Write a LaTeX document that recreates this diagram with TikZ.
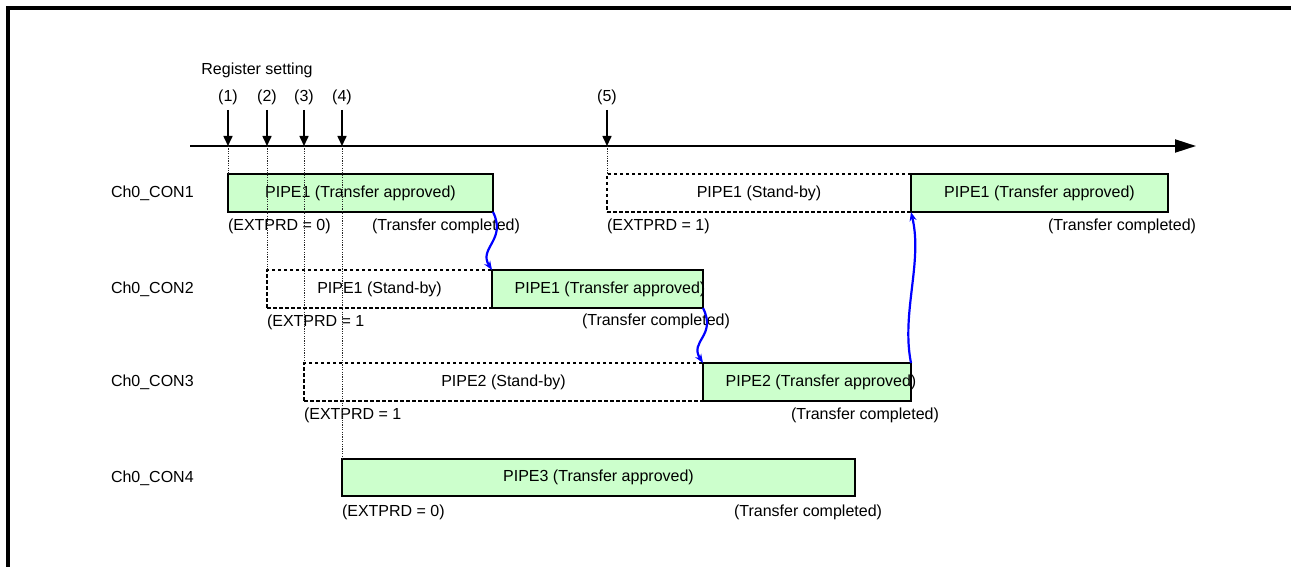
\documentclass[tikz,border=0pt]{standalone}
\usepackage{fontspec}
\setmainfont{Liberation Sans}
\usetikzlibrary{arrows.meta}
\definecolor{pgreen}{HTML}{CCFFCC}
\begin{document}
\begin{tikzpicture}[x=1pt,y=-1pt,
  every node/.style={font=\fontsize{16}{19}\selectfont, inner sep=0pt, outer sep=0pt, text=black},
  box/.style={draw=black, line width=2pt, anchor=north west, inner sep=0pt, outer sep=0pt},
  grn/.style={box, fill=pgreen},
  stby/.style={box, dash pattern=on 3.5pt off 2.5pt},
  regarrow/.style={line width=1.6pt, -{Triangle[length=10pt,width=9pt]}},
  axisline/.style={line width=2pt, -{Triangle[length=21pt,width=13pt]}},
  guide/.style={line width=1pt, dash pattern=on 1.2pt off 1.2pt, black!85},
  flow/.style={blue, line width=2.2pt, -{Stealth[length=9pt,width=7pt]}},
  rowlabel/.style={anchor=west},
]
\useasboundingbox (0,0) rectangle (1291,567);
% frame
\draw[line width=3.5pt] (8,567) -- (8,8) -- (1291,8);

% time axis
\coordinate (ax0) at (190,146);
\coordinate (ax1) at (1196,146);
\draw[axisline] (ax0) -- (ax1);

% register setting marks
\node (reg) at (257,70) {Register setting};
\foreach \i/\x in {1/228,2/267,3/304,4/342,5/607}{
  \node (l\i) at (\x,97) {(\i)};
  \coordinate (s\i) at (\x,110);
  \coordinate (e\i) at (\x,146);
  \draw[regarrow] (s\i) -- (e\i);
}

% row labels
\node[rowlabel] (r1) at (111,193) {Ch0\_CON1};
\node[rowlabel] (r2) at (111,289) {Ch0\_CON2};
\node[rowlabel] (r3) at (111,382) {Ch0\_CON3};
\node[rowlabel] (r4) at (111,478) {Ch0\_CON4};

% boxes
\node[grn, minimum width=265pt, minimum height=38pt] (c1a) at (228,174) {PIPE1 (Transfer approved)};
\node[stby, minimum width=304pt, minimum height=38pt] (c1b) at (607,174) {PIPE1 (Stand-by)};
\node[grn, minimum width=257pt, minimum height=38pt] (c1c) at (911,174) {PIPE1 (Transfer approved)};
\node[stby, minimum width=225pt, minimum height=38pt] (c2a) at (267,270) {PIPE1 (Stand-by)};
\node[grn, minimum width=211pt, minimum height=38pt] (c2b) at (492,270) {};
\node[stby, minimum width=399pt, minimum height=38pt] (c3a) at (304,363) {PIPE2 (Stand-by)};
\node[grn, minimum width=208pt, minimum height=38pt] (c3b) at (703,363) {};
\node[grn, minimum width=513pt, minimum height=37pt] (c4a) at (342,459) {PIPE3 (Transfer approved)};
\node (t2b) at (610,289) {PIPE1 (Transfer approved)};
\node (t3b) at (821,382) {PIPE2 (Transfer approved)};

% sub labels
\node[anchor=west] (x1a) at (228,226) {(EXTPRD = 0)};
\node[anchor=west] (d1a) at (372,226) {(Transfer completed)};
\node[anchor=west] (x1b) at (607,226) {(EXTPRD = 1)};
\node[anchor=east] (d1c) at (1196,226) {(Transfer completed)};
\node[anchor=west] (x2a) at (267,322) {(EXTPRD = 1};
\node[anchor=west] (d2b) at (582,321) {(Transfer completed)};
\node[anchor=west] (x3a) at (304,415) {(EXTPRD = 1};
\node[anchor=west] (d3b) at (791,415) {(Transfer completed)};
\node[anchor=west] (x4a) at (342,512) {(EXTPRD = 0)};
\node[anchor=east] (d4a) at (882,512) {(Transfer completed)};

% guide lines
\draw[guide] (e1) -- (c1a.north west);
\draw[guide] (e2) -- (c2a.north west);
\draw[guide] (e3) -- (c3a.north west);
\draw[guide] (e4) -- (c4a.north west);
\draw[guide] (e5) -- (c1b.north west);

% flow arrows
\draw[flow] (c1a.south east) .. controls +(14,28) and +(-14,-22) .. (c2b.north west);
\draw[flow] (c2b.south east) .. controls +(14,28) and +(-14,-22) .. (c3b.north west);
\draw[flow] (c3b.north east) .. controls +(-10,-50) and +(12,50) .. (c1c.south west);
\end{tikzpicture}
\end{document}
